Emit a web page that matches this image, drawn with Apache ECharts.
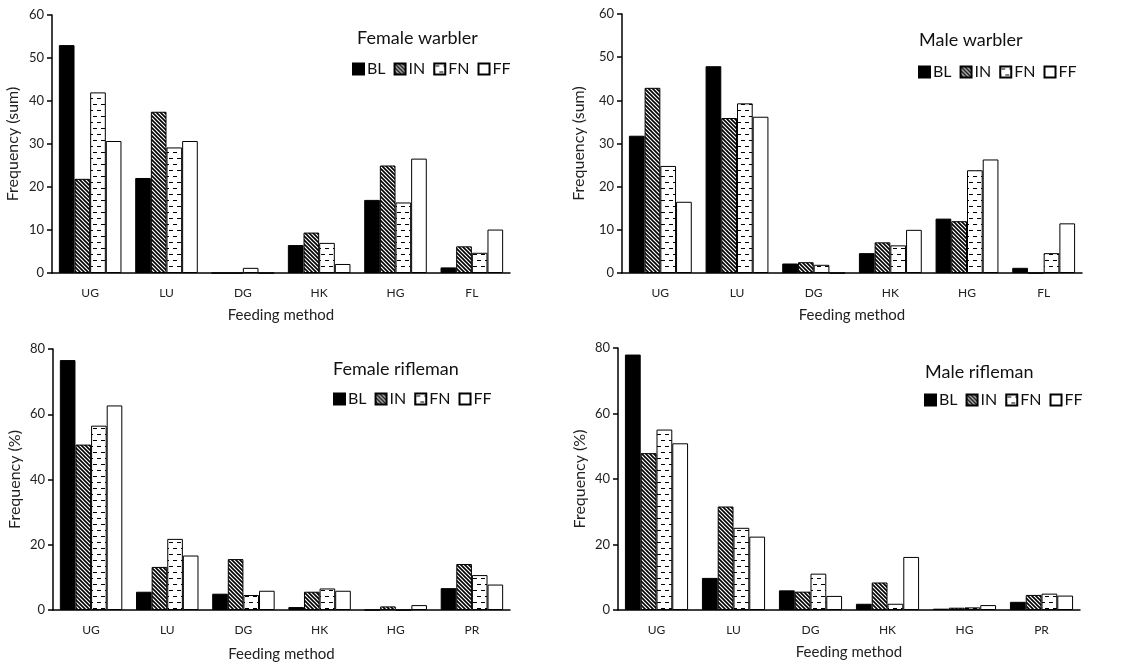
<!DOCTYPE html>
<html>
<head>
<meta charset="utf-8">
<script src="https://cdn.jsdelivr.net/npm/echarts@6/dist/echarts.min.js"></script>
<style>
  html, body { margin: 0; padding: 0; background: #fff; }
  #main { width: 1130px; height: 666px; }
</style>
</head>
<body>
<div id="main"></div>
<script>
var groups = ['BL', 'IN', 'FN', 'FF'];
var warblerCats = ['UG', 'LU', 'DG', 'HK', 'HG', 'FL'];
var riflemanCats = ['UG', 'LU', 'DG', 'HK', 'HG', 'PR'];

// Female warbler (sum)
var femaleWarblerBL = [53, 22.1, 0, 6.5, 17, 1.3];
var femaleWarblerIN = [21.9, 37.5, 0, 9.4, 25, 6.2];
var femaleWarblerFN = [42, 29.2, 1.2, 7, 16.4, 4.7];
var femaleWarblerFF = [30.7, 30.7, 0, 2.1, 26.6, 10.1];

// Male warbler (sum)
var maleWarblerBL = [31.8, 47.9, 2.2, 4.6, 12.6, 1.2];
var maleWarblerIN = [42.9, 35.9, 2.5, 7.1, 12, 0];
var maleWarblerFN = [24.8, 39.3, 1.9, 6.4, 23.8, 4.6];
var maleWarblerFF = [16.5, 36.2, 0, 10, 26.3, 11.5];

// Female rifleman (%)
var femaleRiflemanBL = [76.6, 5.6, 5, 0.9, 0, 6.7];
var femaleRiflemanIN = [50.7, 13.2, 15.6, 5.6, 1.1, 14.1];
var femaleRiflemanFN = [56.5, 21.8, 4.6, 6.6, 0, 10.7];
var femaleRiflemanFF = [62.7, 16.7, 5.9, 5.9, 1.5, 7.8];

// Male rifleman (%)
var maleRiflemanBL = [78, 9.8, 6, 1.9, 0.4, 2.5];
var maleRiflemanIN = [47.9, 31.6, 5.6, 8.4, 0.7, 4.6];
var maleRiflemanFN = [55.1, 25.1, 11.1, 1.9, 0.8, 5];
var maleRiflemanFF = [50.9, 22.4, 4.3, 16.2, 1.5, 4.4];

var panels = [
    {title: 'Female warbler', cats: warblerCats, yName: 'Frequency (sum)', max: 60, interval: 10,
     data: [femaleWarblerBL, femaleWarblerIN, femaleWarblerFN, femaleWarblerFF],
     grid: {left: 52, top: 15, width: 458, height: 258}, yGap: 31, xGap: 35,
     titlePos: {left: 357, top: 29}, legendPos: {left: 352, top: 61}},
    {title: 'Male warbler', cats: warblerCats, yName: 'Frequency (sum)', max: 60, interval: 10,
     data: [maleWarblerBL, maleWarblerIN, maleWarblerFN, maleWarblerFF],
     grid: {left: 622, top: 14, width: 460, height: 259}, yGap: 35, xGap: 35,
     titlePos: {left: 919, top: 31}, legendPos: {left: 918, top: 64}},
    {title: 'Female rifleman', cats: riflemanCats, yName: 'Frequency (%)', max: 80, interval: 20,
     data: [femaleRiflemanBL, femaleRiflemanIN, femaleRiflemanFN, femaleRiflemanFF],
     grid: {left: 53, top: 349, width: 457, height: 261}, yGap: 30, xGap: 37,
     titlePos: {left: 333, top: 360}, legendPos: {left: 333, top: 391}},
    {title: 'Male rifleman', cats: riflemanCats, yName: 'Frequency (%)', max: 80, interval: 20,
     data: [maleRiflemanBL, maleRiflemanIN, maleRiflemanFN, maleRiflemanFF],
     grid: {left: 618, top: 348, width: 462, height: 262}, yGap: 30, xGap: 35,
     titlePos: {left: 925, top: 363}, legendPos: {left: 924, top: 392}}
];

// fill patterns
function hatchPattern() {
    var c = document.createElement('canvas');
    c.width = 4; c.height = 4;
    var ctx = c.getContext('2d');
    ctx.fillStyle = '#fff';
    ctx.fillRect(0, 0, 4, 4);
    ctx.strokeStyle = '#000';
    ctx.lineWidth = 1.6;
    ctx.beginPath();
    ctx.moveTo(-1, -1); ctx.lineTo(5, 5);
    ctx.moveTo(-1, 3); ctx.lineTo(1, 5);
    ctx.moveTo(3, -1); ctx.lineTo(5, 1);
    ctx.stroke();
    return c;
}
function dashPattern() {
    var c = document.createElement('canvas');
    c.width = 8; c.height = 12;
    var ctx = c.getContext('2d');
    ctx.fillStyle = '#fff';
    ctx.fillRect(0, 0, 8, 12);
    ctx.fillStyle = '#000';
    ctx.fillRect(1, 2, 4, 1);
    ctx.fillRect(5, 8, 3, 1);
    ctx.fillRect(0, 8, 1, 1);
    return c;
}

var fills = [
    '#000',
    {image: hatchPattern(), repeat: 'repeat'},
    {image: dashPattern(), repeat: 'repeat'},
    '#fff'
];

var font = 'Lato';
var option = {
    backgroundColor: '#fff',
    textStyle: {fontFamily: font},
    animation: false,
    title: [], legend: [], grid: [], xAxis: [], yAxis: [], series: []
};

panels.forEach(function (p, k) {
    option.title.push({
        text: p.title, left: p.titlePos.left, top: p.titlePos.top, padding: 0,
        textStyle: {fontFamily: font, fontSize: 18, fontWeight: 'normal', color: '#111'}
    });
    option.legend.push({
        data: groups, left: p.legendPos.left, top: p.legendPos.top, padding: 0,
        icon: 'rect', itemWidth: 11, itemHeight: 11, itemGap: 8,
        textStyle: {fontFamily: font, fontSize: 16, color: '#111', padding: [0, 0, 0, -2]},
        selectedMode: false
    });
    option.grid.push(p.grid);
    option.xAxis.push({
        type: 'category', gridIndex: k, data: p.cats,
        name: 'Feeding method', nameLocation: 'middle', nameGap: p.xGap,
        nameTextStyle: {fontFamily: font, fontSize: 15, color: '#222'},
        axisLine: {lineStyle: {color: '#000', width: 1.5}},
        axisTick: {length: 5, lineStyle: {color: '#000', width: 1.5}},
        axisLabel: {fontFamily: font, fontSize: 12, color: '#222', margin: 14}
    });
    option.yAxis.push({
        type: 'value', gridIndex: k, min: 0, max: p.max, interval: p.interval,
        name: p.yName, nameLocation: 'middle', nameGap: p.yGap,
        nameTextStyle: {fontFamily: font, fontSize: 16, color: '#222'},
        axisLine: {show: true, lineStyle: {color: '#000', width: 1.5}},
        axisTick: {show: true, length: 5, lineStyle: {color: '#000', width: 1.5}},
        axisLabel: {fontFamily: font, fontSize: 13, color: '#222', margin: 8},
        splitLine: {show: false}
    });
    groups.forEach(function (g, j) {
        option.series.push({
            name: g, type: 'bar', xAxisIndex: k, yAxisIndex: k,
            data: p.data[j],
            barGap: '0%', barCategoryGap: '18%',
            itemStyle: {color: fills[j], borderColor: '#000', borderWidth: 1}
        });
    });
});

var myChart = echarts.init(document.getElementById('main'));
myChart.setOption(option);
</script>
</body>
</html>
